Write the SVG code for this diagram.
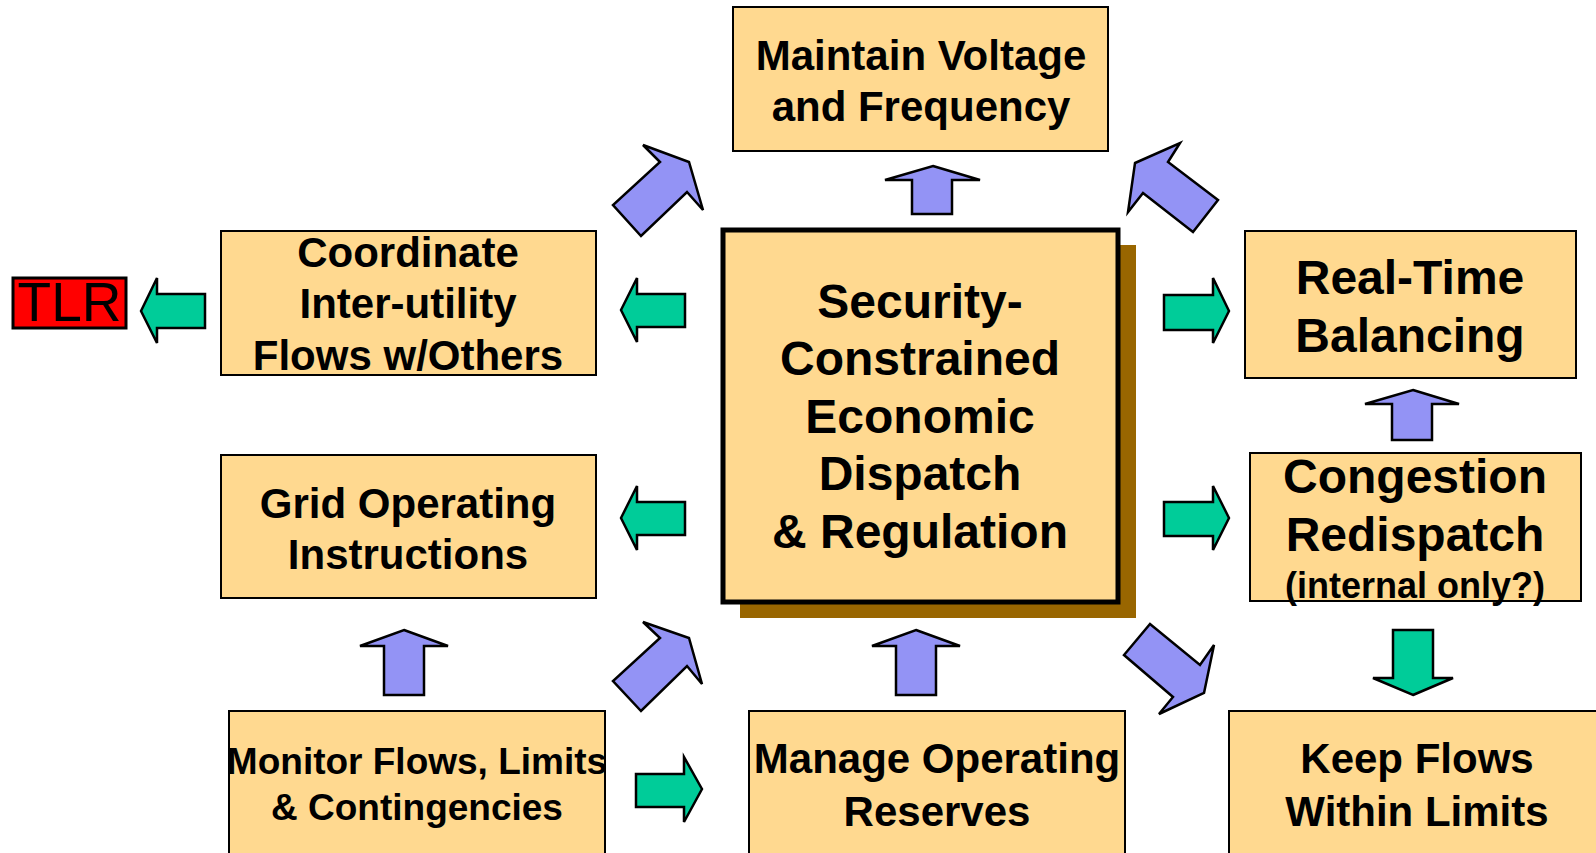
<svg xmlns="http://www.w3.org/2000/svg" width="1596" height="853" viewBox="0 0 1596 853">
<style>
.box{fill:#FFD990;stroke:#000;stroke-width:2}
.t{font-family:"Liberation Sans",Arial,sans-serif;font-weight:bold;text-anchor:middle;fill:#000}
.f42{font-size:42px}
.f48{font-size:48px}
.f36{font-size:36px}
.pu{fill:#9393F5;stroke:#000;stroke-width:2.5;stroke-linejoin:miter}
.gr{fill:#00CC99;stroke:#000;stroke-width:2.5;stroke-linejoin:miter}
</style>
<rect width="1596" height="853" fill="#fff"/>

<g id="connectors">
  <!-- green left arrows -->
  <polygon class="gr" points="141,311 157,278 157,294 205,294 205,328 157,328 157,343"/>
  <polygon class="gr" points="621,310 637,278 637,294 685,294 685,327 637,327 637,342"/>
  <polygon class="gr" points="621,518 637,486 637,502 685,502 685,535 637,535 637,550"/>
  <!-- green right arrows -->
  <polygon class="gr" points="1229,311 1213,278 1213,295 1164,295 1164,330 1213,330 1213,343"/>
  <polygon class="gr" points="1229,518 1213,486 1213,502 1164,502 1164,536 1213,536 1213,550"/>
  <polygon class="gr" points="702,789 684,757 684,774 636,774 636,807 684,807 684,822"/>
  <!-- green down arrow -->
  <polygon class="gr" points="1413,695 1453,678 1433,678 1433,630 1393,630 1393,678 1373,678"/>
  <!-- purple up arrows -->
  <polygon class="pu" points="933,166 980,180 952,180 952,214 912,214 912,180 885,180"/>
  <polygon class="pu" points="1413,390 1459,404 1432,404 1432,440 1392,440 1392,404 1365,404"/>
  <polygon class="pu" points="404,630 448,646 424,646 424,695 384,695 384,646 360,646"/>
  <polygon class="pu" points="916,630 960,646 936,646 936,695 896,695 896,646 872,646"/>
  <!-- purple diagonal arrows -->
  <polygon class="pu" points="643,145 689,162 703,210 687,192 641,236 613,205 660,162"/>
  <polygon class="pu" points="643,622 689,638 702,684 687,666 641,711 613,681 660,638"/>
  <polygon class="pu" points="1135,163 1180,143 1168,162 1218,200 1193,232 1143,193 1128,212"/>
  <polygon class="pu" points="1204,693 1214,645 1200,665 1150,624 1124,655 1173,697 1159,714"/>
</g>

<g id="tlr">
  <rect x="13" y="278" width="113" height="50" fill="#FF0000" stroke="#000" stroke-width="3"/>
  <text x="69.5" y="321" font-family="Liberation Sans,Arial,sans-serif" font-size="55" text-anchor="middle">TLR</text>
</g>

<g id="maintain">
  <rect class="box" x="733" y="7" width="375" height="144"/>
  <text class="t f42" x="921" y="70">Maintain Voltage</text>
  <text class="t f42" x="921" y="121">and Frequency</text>
</g>

<g id="coordinate">
  <rect class="box" x="221" y="231" width="375" height="144"/>
  <text class="t f42" x="408" y="267">Coordinate</text>
  <text class="t f42" x="408" y="318">Inter-utility</text>
  <text class="t f42" x="408" y="370">Flows w/Others</text>
</g>

<g id="grid">
  <rect class="box" x="221" y="455" width="375" height="143"/>
  <text class="t f42" x="408" y="518">Grid Operating</text>
  <text class="t f42" x="408" y="569">Instructions</text>
</g>

<g id="monitor">
  <rect class="box" x="229" y="711" width="376" height="150"/>
  <text class="t" font-size="37" x="417" y="774">Monitor Flows, Limits</text>
  <text class="t" font-size="37" x="417" y="820">&amp; Contingencies</text>
</g>

<g id="manage">
  <rect class="box" x="749" y="711" width="376" height="150"/>
  <text class="t f42" x="937" y="773">Manage Operating</text>
  <text class="t f42" x="937" y="826">Reserves</text>
</g>

<g id="keep">
  <rect class="box" x="1229" y="711" width="376" height="150"/>
  <text class="t f42" x="1417" y="773">Keep Flows</text>
  <text class="t f42" x="1417" y="826">Within Limits</text>
</g>

<g id="realtime">
  <rect class="box" x="1245" y="231" width="331" height="147"/>
  <text class="t f48" x="1410" y="294">Real-Time</text>
  <text class="t f48" x="1410" y="352">Balancing</text>
</g>

<g id="congestion">
  <rect class="box" x="1250" y="453" width="331" height="148"/>
  <text class="t f48" x="1415" y="493">Congestion</text>
  <text class="t f48" x="1415" y="551">Redispatch</text>
  <text class="t f36" x="1415" y="598">(internal only?)</text>
</g>

<g id="central">
  <rect x="740" y="245" width="396" height="373" fill="#996600"/>
  <rect x="723" y="230" width="395" height="372" fill="#FFD990" stroke="#000" stroke-width="5"/>
  <text class="t f48" x="920" y="318">Security-</text>
  <text class="t f48" x="920" y="375">Constrained</text>
  <text class="t f48" x="920" y="433">Economic</text>
  <text class="t f48" x="920" y="490">Dispatch</text>
  <text class="t f48" x="920" y="548">&amp; Regulation</text>
</g>
</svg>
